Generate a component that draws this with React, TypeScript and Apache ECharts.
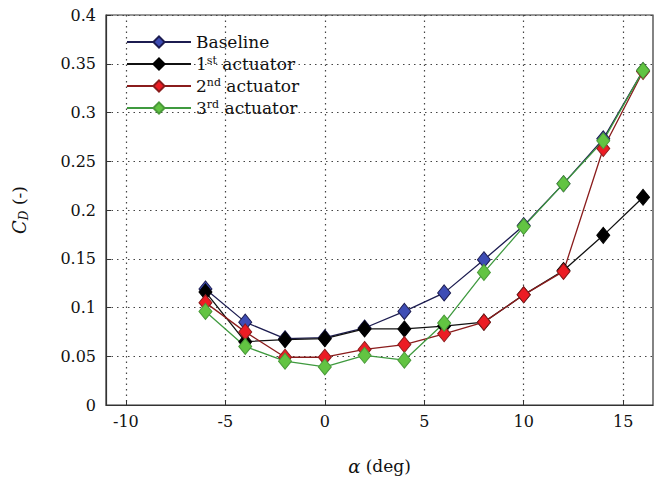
import React, { useEffect, useRef } from "react";
import * as echarts from "echarts";

const alpha = [-6, -4, -2, 0, 2, 4, 6, 8, 10, 12, 14, 16];
const baseline = [0.119, 0.085, 0.068, 0.069, 0.079, 0.096, 0.115, 0.149, 0.184, 0.227, 0.273, 0.343];
const act1 = [0.116, 0.065, 0.067, 0.068, 0.078, 0.078, 0.081, 0.085, 0.113, 0.138, 0.174, 0.213];
const act2 = [0.105, 0.075, 0.049, 0.049, 0.057, 0.062, 0.073, 0.085, 0.113, 0.137, 0.263, 0.342];
const act3 = [0.096, 0.060, 0.045, 0.039, 0.051, 0.046, 0.084, 0.136, 0.183, 0.227, 0.271, 0.343];
const xTicks = [-10, -5, 0, 5, 10, 15];
const seriesNames = ["Baseline", "1st actuator", "2nd actuator", "3rd actuator"];
const legendLabels = ["Baseline", "1{sup|st} actuator", "2{sup|nd} actuator", "3{sup|rd} actuator"];

const FONT = "DejaVu Serif";

export default function App() {
  const ref = useRef<HTMLDivElement>(null);
  useEffect(() => {
    if (!ref.current) return;
    const chart = echarts.init(ref.current, null, { renderer: "svg" });
    const mk = (name: string, data: number[], line: string, fill: string, edge: string) => ({
      name,
      type: "line",
      data: alpha.map((a, i) => [a, data[i]]),
      symbol: "diamond",
      symbolSize: [13, 16],
      lineStyle: { color: line, width: 1.3 },
      itemStyle: { color: fill, borderColor: edge, borderWidth: 1 },
      clip: false,
    });
    chart.setOption({
      animation: false,
      backgroundColor: "#ffffff",
      grid: { left: 105, right: 2, top: 15, bottom: 80, show: true, borderColor: "#333", borderWidth: 1.2 },
      legend: {
        orient: "vertical",
        left: 121,
        top: 28,
        itemWidth: 64,
        itemHeight: 14,
        itemGap: 4,
        data: seriesNames,
        formatter: (n: string) => legendLabels[seriesNames.indexOf(n)],
        textStyle: {
          fontFamily: FONT,
          fontSize: 17,
          color: "#111",
          lineHeight: 18,
          rich: {
            sup: { fontFamily: FONT, fontSize: 11, lineHeight: 18, verticalAlign: "top", color: "#111" },
          },
        },
      },
      xAxis: {
        type: "value",
        min: -11,
        max: 16.5,
        name: "{i|α} (deg)",
        nameLocation: "middle",
        nameGap: 52,
        nameTextStyle: {
          fontFamily: FONT,
          fontSize: 17,
          color: "#111",
          rich: { i: { fontFamily: FONT, fontStyle: "italic", fontSize: 18, color: "#111" } },
        },
        axisLine: { show: true, onZero: false, lineStyle: { color: "#333", width: 1.2 } },
        axisTick: { show: true, inside: true, length: 5, customValues: xTicks, lineStyle: { color: "#333" } },
        axisLabel: { customValues: xTicks, fontFamily: FONT, fontSize: 16, color: "#111", margin: 8 },
        splitLine: { show: true, lineStyle: { color: "#444", type: [1.5, 4], width: 1.2 } },
      },
      yAxis: {
        type: "value",
        min: 0,
        max: 0.4,
        interval: 0.05,
        name: "{i|C}{sub|D} (-)",
        nameLocation: "middle",
        nameRotate: 90,
        nameGap: 76,
        nameTextStyle: {
          fontFamily: FONT,
          fontSize: 17,
          color: "#111",
          lineHeight: 22,
          rich: {
            i: { fontFamily: FONT, fontStyle: "italic", fontSize: 18, color: "#111", lineHeight: 22 },
            sub: { fontFamily: FONT, fontStyle: "italic", fontSize: 12, color: "#111", lineHeight: 22, verticalAlign: "bottom" },
          },
        },
        axisLine: { show: true, onZero: false, lineStyle: { color: "#333", width: 1.2 } },
        axisTick: { show: true, inside: true, length: 5, lineStyle: { color: "#333" } },
        axisLabel: { fontFamily: FONT, fontSize: 16, color: "#111", margin: 10 },
        splitLine: { show: true, lineStyle: { color: "#444", type: [1.5, 4], width: 1.2 } },
      },
      series: [
        mk(seriesNames[0], baseline, "#1c1c50", "#3e4db5", "#1c1c50"),
        mk(seriesNames[1], act1, "#111111", "#000000", "#000000"),
        mk(seriesNames[2], act2, "#8a1c1c", "#ec1c24", "#8a1c1c"),
        mk(seriesNames[3], act3, "#3f9a3f", "#62c442", "#4a9a3a"),
      ],
    });
    return () => chart.dispose();
  }, []);
  return <div ref={ref} style={{ width: 655, height: 485, position: "absolute", left: 0, top: 0 }} />;
}
